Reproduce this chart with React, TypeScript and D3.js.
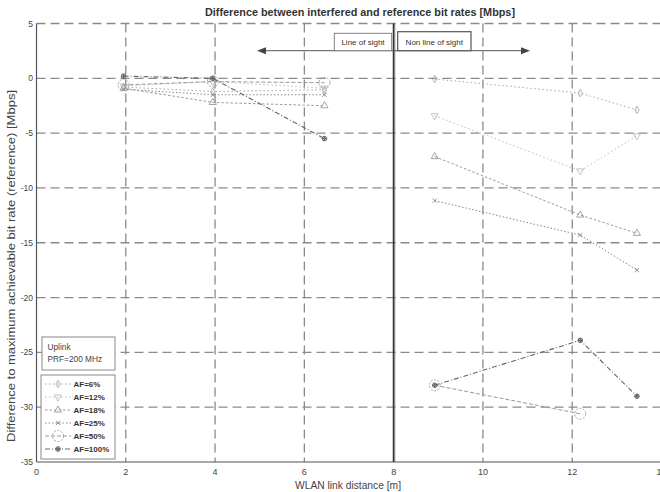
import React from "react";
import * as d3 from "d3";

const DIST_LOS = [1.95, 3.95, 6.45];
const DIST_NLOS = [8.92, 12.18, 13.45];
const SERIES_NAMES = ["AF=6%", "AF=12%", "AF=18%", "AF=25%", "AF=50%", "AF=100%"];
const AF6 = [-0.8, -1.2, -1.05, -0.07, -1.35, -2.88];
const AF12 = [-0.7, -0.3, -0.9, -3.42, -8.45, -5.25];
const AF18 = [-0.9, -2.2, -2.5, -7.14, -12.47, -14.14];
const AF25 = [-1.0, -1.5, -1.5, -11.16, -14.3, -17.49];
const AF50 = [-0.6, -0.3, -0.4, -28.0, -30.6, null];
const AF100 = [0.2, 0.0, -5.5, -28.0, -23.9, -29.0];
const X_TICKS = [0, 2, 4, 6, 8, 10, 12, 14];
const Y_TICKS = [5, 0, -5, -10, -15, -20, -25, -30, -35];

const SERIES = [AF6, AF12, AF18, AF25, AF50, AF100];
const STYLES = [
  { stroke: "#a8a8a8", dash: "1.5,2.5", marker: "diamond" },
  { stroke: "#bdbdbd", dash: "1.5,2.5", marker: "tdown" },
  { stroke: "#9a9a9a", dash: "2.5,2", marker: "tup" },
  { stroke: "#888", dash: "1.5,2", marker: "x" },
  { stroke: "#999", dash: "4,2", marker: "circle" },
  { stroke: "#666", dash: "5,2,1,2", marker: "dot" },
];

const x = d3.scaleLinear().domain([0, 14]).range([36.5, 661.5]);
const y = d3.scaleLinear().domain([-35, 5]).range([462, 23.5]);

function Marker({ type, cx, cy, color }: { type: string; cx: number; cy: number; color: string }) {
  const common = { fill: "none", stroke: color, strokeWidth: 0.9 };
  if (type === "diamond") {
    return <path d={d3.symbol(d3.symbolDiamond, 16)()!} transform={`translate(${cx},${cy})`} {...common} />;
  }
  if (type === "tdown") {
    return <path d={d3.symbol(d3.symbolTriangle, 22)()!} transform={`translate(${cx},${cy}) rotate(180)`} {...common} />;
  }
  if (type === "tup") {
    return <path d={d3.symbol(d3.symbolTriangle, 22)()!} transform={`translate(${cx},${cy})`} {...common} />;
  }
  if (type === "x") {
    return <path d={d3.symbol(d3.symbolX, 14)()!} transform={`translate(${cx},${cy})`} {...common} />;
  }
  if (type === "circle") {
    return <circle cx={cx} cy={cy} r={5.5} {...common} strokeDasharray="2,1.5" />;
  }
  return (
    <g>
      <circle cx={cx} cy={cy} r={2.3} fill="none" stroke={color} strokeWidth={1} />
      <path d={d3.symbol(d3.symbolCross, 10)()!} transform={`translate(${cx},${cy})`} fill={color} />
    </g>
  );
}

export default function App() {
  const line = d3
    .line<[number, number | null]>()
    .defined((d) => d[1] !== null)
    .x((d) => x(d[0]))
    .y((d) => y(d[1] as number));

  const gridColor = "#8a8a8a";
  const legendTop = 387;
  const legendStep = 13;

  return (
    <svg width={660} height={492} style={{ position: "absolute", left: 0, top: 0, background: "#fff" }} fontFamily="'Liberation Sans', Arial, sans-serif">
      <rect x={0} y={0} width={660} height={492} fill="#fff" />
      {/* horizontal grid */}
      {Y_TICKS.filter((t) => t > -35).map((t) => (
        <line key={"hy" + t} x1={x(0)} x2={x(14)} y1={y(t)} y2={y(t)} stroke={gridColor} strokeWidth={1.3} strokeDasharray="9,5" />
      ))}
      {/* vertical grid */}
      {X_TICKS.filter((t) => t > 0 && t !== 8).map((t) => (
        <line key={"vx" + t} x1={x(t)} x2={x(t)} y1={y(5)} y2={y(-35)} stroke={gridColor} strokeWidth={1.3} strokeDasharray="9,5" />
      ))}
      {/* axes */}
      <line x1={x(0)} x2={x(0)} y1={y(5)} y2={y(-35)} stroke="#555" strokeWidth={1.2} />
      <line x1={x(0)} x2={x(14)} y1={y(-35)} y2={y(-35)} stroke="#555" strokeWidth={1.2} />
      {/* separator at 8 m */}
      <line x1={x(8)} x2={x(8)} y1={y(5)} y2={y(-35)} stroke="#333" strokeWidth={1.8} />
      <line x1={x(8) + 1.5} x2={x(8) + 1.5} y1={y(5)} y2={y(-35)} stroke="#777" strokeWidth={0.8} strokeDasharray="1,1" />

      {/* tick labels */}
      {Y_TICKS.map((t) => (
        <text key={"yl" + t} x={33} y={y(t) + 3} fontSize={8.5} textAnchor="end" fill="#444">
          {t}
        </text>
      ))}
      {X_TICKS.map((t) => (
        <text key={"xl" + t} x={x(t)} y={475} fontSize={9} textAnchor="middle" fill="#444">
          {t}
        </text>
      ))}

      {/* title and axis labels */}
      <text x={360} y={16} fontSize={11} fontWeight="bold" textAnchor="middle" fill="#333" textLength={310} lengthAdjust="spacingAndGlyphs">
        Difference between interfered and reference bit rates [Mbps]
      </text>
      <text x={348} y={489} fontSize={10.5} textAnchor="middle" fill="#444" textLength={106} lengthAdjust="spacingAndGlyphs">
        WLAN link distance [m]
      </text>
      <text transform="translate(15,266) rotate(-90)" fontSize={11} textAnchor="middle" fill="#444" textLength={352} lengthAdjust="spacingAndGlyphs">
        Difference to maximum achievable bit rate (reference) [Mbps]
      </text>

      {/* LOS / NLOS annotation */}
      <line x1={262} x2={525} y1={50.7} y2={50.7} stroke="#555" strokeWidth={1} />
      <path d={`M257,50.7 L266,47.2 L266,54.2 Z`} fill="#444" />
      <path d={`M530,50.7 L521,47.2 L521,54.2 Z`} fill="#444" />
      <rect x={334.3} y={33.3} width={57.4} height={17.4} fill="#fff" stroke="#777" strokeWidth={0.9} />
      <text x={363} y={45} fontSize={8} textAnchor="middle" fill="#333">Line of sight</text>
      <rect x={397.7} y={31.7} width={73.3} height={19} fill="#fff" stroke="#555" strokeWidth={1.2} />
      <text x={434.3} y={44.5} fontSize={8} textAnchor="middle" fill="#333">Non line of sight</text>

      {/* data */}
      {SERIES.map((vals, si) => {
        const st = STYLES[si];
        const los = DIST_LOS.map((d, i) => [d, vals[i]] as [number, number | null]);
        const nlos = DIST_NLOS.map((d, i) => [d, vals[i + 3]] as [number, number | null]);
        const sw = si === 5 ? 1.1 : 1;
        return (
          <g key={"s" + si}>
            <path d={line(los)!} fill="none" stroke={st.stroke} strokeWidth={sw} strokeDasharray={st.dash} />
            <path d={line(nlos)!} fill="none" stroke={st.stroke} strokeWidth={sw} strokeDasharray={st.dash} />
            {[...los, ...nlos]
              .filter((p) => p[1] !== null)
              .map((p, i) => (
                <Marker key={i} type={st.marker} cx={x(p[0])} cy={y(p[1] as number)} color={st.stroke} />
              ))}
          </g>
        );
      })}

      {/* info box */}
      <rect x={42} y={337} width={73} height={33} fill="#fff" stroke="#888" strokeWidth={1} />
      <text x={47.5} y={350} fontSize={8.3} fill="#444">Uplink</text>
      <text x={47.5} y={362} fontSize={8.3} fill="#444">PRF=200 MHz</text>

      {/* legend */}
      <rect x={41} y={375} width={74} height={84} fill="#fff" stroke="#888" strokeWidth={1} />
      {SERIES_NAMES.map((name, i) => {
        const st = STYLES[i];
        const ly = legendTop + i * legendStep - 3;
        return (
          <g key={"lg" + i}>
            <line x1={45} x2={71} y1={ly} y2={ly} stroke={st.stroke} strokeWidth={1} strokeDasharray={st.dash} />
            <Marker type={st.marker} cx={58} cy={ly} color={st.stroke} />
            <text x={73.5} y={legendTop + i * legendStep} fontSize={8} fill="#333" fontWeight="bold">
              {name}
            </text>
          </g>
        );
      })}
    </svg>
  );
}
